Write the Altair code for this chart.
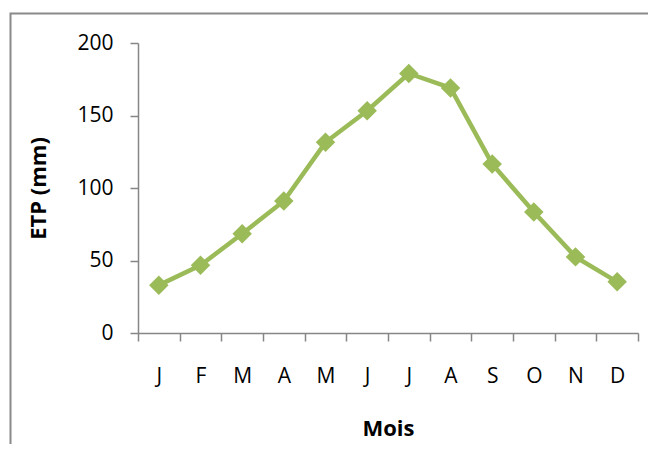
import altair as alt
import pandas as pd

months = ["J", "F", "M", "A", "M ", "J ", "J  ", "A ", "S", "O", "N", "D"]
etp = [33, 46.7, 68.5, 91, 131.5, 153.3, 179, 169, 116.6, 83.4, 52.5, 35.3]

df = pd.DataFrame({"mois": months, "etp": etp})

FONT = "Open Sans"
GREEN = "#9BBB59"
GRAY = "#868686"

x_enc = alt.X(
    "mois:N",
    sort=months,
    scale=alt.Scale(paddingInner=0, paddingOuter=0),
    axis=alt.Axis(
        title="Mois",
        labelAngle=0,
        tickBand="extent",
        tickSize=8,
        labelPadding=24,
        titleX=250,
        titleY=95,
        titleBaseline="middle",
        titleAlign="center",
    ),
)
y_enc = alt.Y(
    "etp:Q",
    scale=alt.Scale(domain=[0, 200]),
    axis=alt.Axis(
        title="ETP (mm)",
        values=[0, 50, 100, 150, 200],
        grid=False,
        tickSize=8,
        labelPadding=17,
        titleX=-100,
        titleY=145,
        titleAngle=270,
        titleBaseline="middle",
        titleAlign="center",
    ),
)

line = alt.Chart(df).mark_line(color=GREEN, strokeWidth=4.5).encode(x=x_enc, y=y_enc)
points = alt.Chart(df).mark_point(
    shape="diamond", filled=True, size=380, color=GREEN, opacity=1
).encode(x=alt.X("mois:N", sort=months), y="etp:Q")

frame = alt.Chart(pd.DataFrame({"k": [0]})).mark_rect(
    fill=None, stroke="#8a8a8a", strokeWidth=2
).encode(
    x=alt.value(-127.5), x2=alt.value(700), y=alt.value(-29.5), y2=alt.value(600)
)

chart = alt.layer(frame, line, points).properties(
    width=500,
    height=290,
    autosize=alt.AutoSizeParams(type="none"),
    padding={"left": 130, "top": 35, "right": 10, "bottom": 111},
).configure_view(stroke=None).configure_axis(
    domainColor=GRAY,
    domainWidth=1.5,
    tickColor=GRAY,
    tickWidth=1.5,
    labelFont=FONT,
    labelFontSize=21,
    labelColor="#000000",
    titleFont=FONT,
    titleFontSize=22,
    titleFontWeight="bold",
    titleColor="#000000",
)

chart.save("out.html", embed_options={"renderer": "svg", "actions": False})
